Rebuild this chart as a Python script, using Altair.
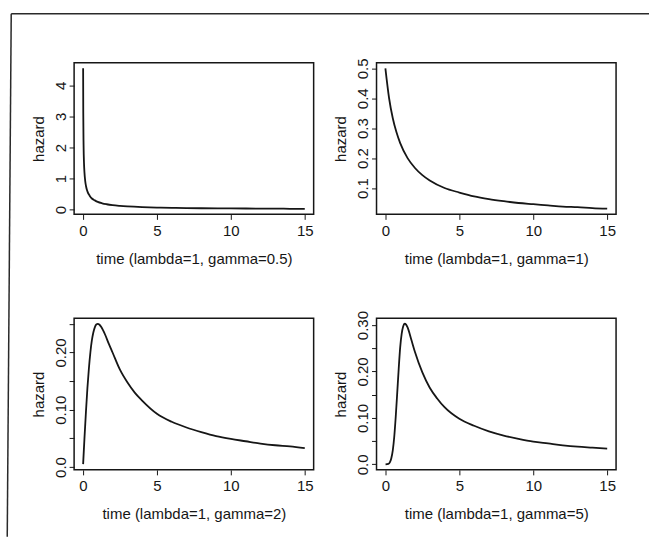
import altair as alt
import pandas as pd

# ---- data ----
# panel 1: lambda=1, gamma=0.5
t1 = [0.01, 0.02, 0.04, 0.07, 0.1, 0.15, 0.2, 0.3, 0.45, 0.6, 0.8, 1.0, 1.3, 1.6,
      2.0, 2.5, 3.0, 4.0, 5.0, 6.0, 7.0, 8.0, 10.0, 12.0, 13.3, 14.0, 15.0]
h1 = [4.55, 3.10, 2.08, 1.49, 1.20, 0.93, 0.77, 0.59, 0.45, 0.36, 0.30, 0.25, 0.205, 0.175,
      0.146, 0.123, 0.106, 0.083, 0.069, 0.059, 0.052, 0.046, 0.040, 0.036, 0.034, 0.029, 0.027]

# panel 2: lambda=1, gamma=1
t2 = [0.0, 0.25, 0.5, 0.75, 1.0, 1.5, 2.0, 2.5, 3.0, 4.0, 5.0, 6.0, 7.0, 8.0, 9.0,
      10.0, 11.0, 12.0, 13.0, 14.0, 15.0]
h2 = [0.500, 0.400, 0.333, 0.286, 0.250, 0.200, 0.167, 0.143, 0.125, 0.100, 0.085, 0.072,
      0.063, 0.056, 0.050, 0.046, 0.042, 0.038, 0.036, 0.033, 0.031]

# panel 3: lambda=1, gamma=2
t3 = [0.01, 0.1, 0.2, 0.3, 0.4, 0.5, 0.6, 0.7, 0.8, 0.9, 1.0, 1.1, 1.25, 1.5, 1.75,
      2.0, 2.5, 3.0, 3.5, 4.0, 5.0, 6.0, 7.0, 8.0, 9.0, 10.0, 11.0, 12.0, 13.0, 14.0, 15.0]
h3 = [0.005, 0.050, 0.096, 0.138, 0.172, 0.200, 0.221, 0.235, 0.244, 0.249, 0.250, 0.249,
      0.244, 0.231, 0.215, 0.200, 0.170, 0.148, 0.130, 0.116, 0.093, 0.079, 0.069, 0.061,
      0.054, 0.049, 0.045, 0.041, 0.038, 0.036, 0.033]

# panel 4: lambda=1, gamma=5
t4 = [0.01, 0.2, 0.3, 0.4, 0.5, 0.6, 0.7, 0.8, 0.9, 1.0, 1.1, 1.2, 1.3, 1.4, 1.5, 1.75,
      2.0, 2.5, 3.0, 3.5, 4.0, 5.0, 6.0, 7.0, 8.0, 9.0, 10.0, 11.0, 12.0, 13.0, 14.0, 15.0]
h4 = [0.000, 0.001, 0.004, 0.013, 0.030, 0.060, 0.103, 0.154, 0.206, 0.252, 0.281, 0.297,
      0.303, 0.301, 0.295, 0.269, 0.242, 0.198, 0.165, 0.142, 0.123, 0.098, 0.083, 0.071,
      0.062, 0.055, 0.049, 0.045, 0.041, 0.038, 0.036, 0.034]

x_ticks = [0, 5, 10, 15]
x_titles = ["time (lambda=1, gamma=0.5)", "time (lambda=1, gamma=1)",
            "time (lambda=1, gamma=2)", "time (lambda=1, gamma=5)"]

INK = "#161616"
FONT = "Liberation Sans"
W, H = 240, 152


def panel(t, h, ydomain, yvalues, ylabel_expr, xtitle, frame=False):
    df = pd.DataFrame({"time": t, "hazard": h})
    line = alt.Chart(df).mark_line(
        color=INK, strokeWidth=1.8, interpolate="monotone"
    ).encode(
        x=alt.X("time:Q",
                scale=alt.Scale(domain=[-0.6, 15.6], nice=False, zero=False),
                axis=alt.Axis(values=x_ticks, title=xtitle, format="d")),
        y=alt.Y("hazard:Q",
                scale=alt.Scale(domain=ydomain, nice=False, zero=False),
                axis=alt.Axis(values=yvalues, labelExpr=ylabel_expr, title="hazard")),
    )
    layers = [line]
    if frame:
        one = alt.Data(values=[{}])
        left = alt.Chart(one).mark_rule(color="#2a2a2a", strokeWidth=1.5).encode(
            x=alt.value(-63), y=alt.value(-49), x2=alt.value(-67), y2=alt.value(475))
        top = alt.Chart(one).mark_rule(color="#2a2a2a", strokeWidth=1.5).encode(
            x=alt.value(-63), y=alt.value(-49), x2=alt.value(576), y2=alt.value(-49))
        layers += [left, top]
    return alt.layer(*layers).properties(width=W, height=H)


expr_int = "format(datum.value, 'd')"
expr_1 = "format(datum.value, '.1f')"
expr_2 = ("datum.value < 0.001 ? '0.0' : (round(datum.value * 100) % 10 == 0 ? "
          "format(datum.value, '.2f') : '')")

p1 = panel(t1, h1, [-0.15, 4.73], [0, 1, 2, 3, 4], expr_int, x_titles[0], frame=True)
p2 = panel(t2, h2, [0.012, 0.519], [0.1, 0.2, 0.3, 0.4, 0.5], expr_1, x_titles[1])
p3 = panel(t3, h3, [-0.005, 0.26], [0, 0.05, 0.1, 0.15, 0.2, 0.25], expr_2, x_titles[2])
p4 = panel(t4, h4, [-0.012, 0.315], [0, 0.05, 0.1, 0.15, 0.2, 0.25, 0.3], expr_2, x_titles[3])

chart = alt.concat(
    p1, p2, p3, p4, columns=2, spacing={"row": 104, "column": 63}, bounds="flush"
).properties(
    padding={"left": 5.25, "top": 11.25, "right": 0, "bottom": 0},
    background="#ffffff",
).configure_view(
    stroke=INK, strokeWidth=1.5, fill=None
).configure_axis(
    domain=False, grid=False,
    tickColor=INK, tickSize=5, tickWidth=1,
    labelFont=FONT, labelFontSize=15, labelColor=INK,
    titleFont=FONT, titleFontSize=15, titleFontWeight="normal", titleColor=INK,
    labelOverlap=False, labelFlush=False,
).configure_axisX(
    labelPadding=4, titleBaseline="middle", titleY=44,
).configure_axisY(
    labelAngle=270, labelAlign="center", labelBaseline="middle", labelPadding=9,
    titleAngle=270, titleAlign="center", titleBaseline="middle", titleX=-36, titleY=H / 2,
)

chart.save("out.html", embed_options={"renderer": "svg", "actions": False})
